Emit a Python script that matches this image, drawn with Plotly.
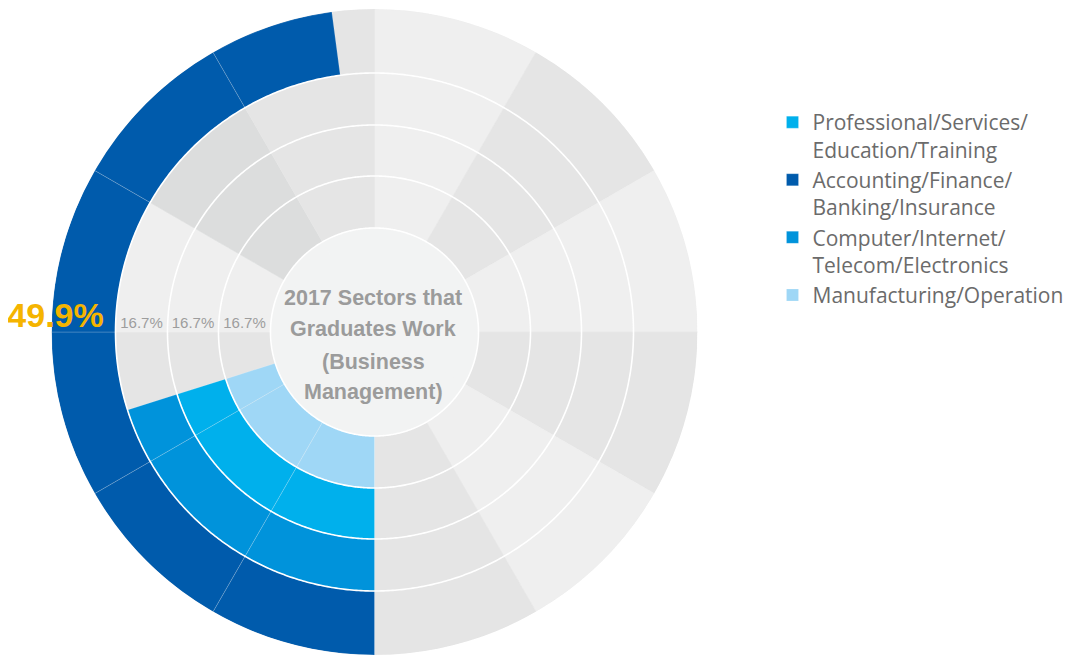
import numpy as np
import plotly.graph_objects as go

# ---------------- data (rings listed from inside to outside) ----------------
ring_names = ["Manufacturing/Operation",
              "Professional/Services/Education/Training",
              "Computer/Internet/Telecom/Electronics",
              "Accounting/Finance/Banking/Insurance"]
legend_labels = ["Manufacturing/Operation",
                 "Professional/Services/<br>Education/Training",
                 "Computer/Internet/<br>Telecom/Electronics",
                 "Accounting/Finance/<br>Banking/Insurance"]
share_pct = [16.7, 16.7, 16.7, 49.9]
share_labels = ["16.7%", "16.7%", "16.7%", "49.9%"]
arc_start_deg = 180.0
arc_end_deg = [252.5, 252.5, 252.5, 352.4]   # where each coloured arc ends
legend_order = [1, 3, 2, 0]                 # Professional, Accounting, Computer, Manufacturing
title_lines = ["2017 Sectors that", "Graduates Work", "(Business", "Management)"]

# ---------------- style ----------------
ring_colors = ["#9fd7f6", "#00b0ec", "#0093db", "#005bac"]
ring_edges = [104, 156, 207, 259, 323]
label_r = [130, 181.5, 233, 319]
label_theta = [270, 270, 270, 269.3]
sector_deg = 30
sector_shades = ["#efefef", "#e5e5e5", "#efefef", "#e5e5e5", "#efefef", "#e5e5e5",
                 "#efefef", "#e5e5e5", "#e5e5e5", "#efefef", "#dcdddd", "#e5e5e5"]
center_fill = "#f2f3f3"

W, H = 1075, 656
PAGE_OFF = 8          # default body margin of the html page
M_T, M_B = 1, 9
cx = 374.5 - PAGE_OFF
R = ring_edges[-1]


def py(screen_y):
    return 1 - (screen_y - PAGE_OFF - M_T) / (H - M_T - M_B)


def px(screen_x):
    return (screen_x - PAGE_OFF) / W


fig = go.Figure()
sector_centers = [sector_deg * k + sector_deg / 2 for k in range(12)]

# centre disk
fig.add_trace(go.Barpolar(
    theta=sector_centers, width=[sector_deg] * 12, base=[0] * 12, r=[ring_edges[0]] * 12,
    marker=dict(color=center_fill, line=dict(color=center_fill, width=1)),
    showlegend=False, hoverinfo="skip"))

# grey background sectors of each ring
for i in range(4):
    b, t = ring_edges[i], ring_edges[i + 1]
    fig.add_trace(go.Barpolar(
        theta=sector_centers, width=[sector_deg] * 12, base=[b] * 12, r=[t - b] * 12,
        marker=dict(color=sector_shades, line=dict(color=sector_shades, width=0.6)),
        showlegend=False, hoverinfo="skip"))

# coloured arcs (split on the 30 degree grid)
for i in legend_order:
    b, t = ring_edges[i], ring_edges[i + 1]
    starts = list(np.arange(arc_start_deg, arc_end_deg[i], sector_deg))
    ends = [min(s + sector_deg, arc_end_deg[i]) for s in starts]
    fig.add_trace(go.Barpolar(
        theta=[(s + e) / 2 for s, e in zip(starts, ends)],
        width=[e - s for s, e in zip(starts, ends)],
        base=[b] * len(starts), r=[t - b] * len(starts),
        name=legend_labels[i],
        marker=dict(color=ring_colors[i], line=dict(color="rgba(255,255,255,0.3)", width=0.6)),
        hovertemplate=ring_names[i] + ": " + share_labels[i] + "<extra></extra>"))

# white ring separators
circle_theta = np.linspace(0, 360, 721)
for e in ring_edges[:-1]:
    fig.add_trace(go.Scatterpolar(
        r=[e] * len(circle_theta), theta=circle_theta, mode="lines",
        line=dict(color="white", width=1.6), showlegend=False, hoverinfo="skip"))

# percentage labels
fig.add_trace(go.Scatterpolar(
    r=label_r[:3], theta=label_theta[:3], mode="text", text=share_labels[:3],
    textposition="top center",
    textfont=dict(family="Liberation Sans, Arial", size=15, color="#9d9d9d"),
    showlegend=False, hoverinfo="skip"))
fig.add_trace(go.Scatterpolar(
    r=[label_r[3]], theta=[label_theta[3]], mode="text", text=[share_labels[3]],
    textposition="top center",
    textfont=dict(family="Liberation Sans, Arial", size=34, color="#f5b400", weight="bold"),
    showlegend=False, hoverinfo="skip"))

# centre title
title_y = [298, 329, 362, 392]
for line, yy in zip(title_lines, title_y):
    fig.add_annotation(
        x=px(373), y=py(yy), xref="paper", yref="paper",
        text="<b>" + line + "</b>", showarrow=False, xanchor="center", yanchor="middle",
        font=dict(family="Liberation Sans, Arial", size=21.5, color="#9b9b9b"))

fig.update_layout(
    width=W, height=H,
    margin=dict(l=0, r=0, t=M_T, b=M_B),
    paper_bgcolor="white", plot_bgcolor="white",
    polar=dict(
        domain=dict(x=[(cx - R) / W, (cx + R) / W], y=[0, 1]),
        bgcolor="rgba(0,0,0,0)",
        bargap=0, barmode="overlay", hole=0,
        radialaxis=dict(visible=False, range=[0, R]),
        angularaxis=dict(visible=False, rotation=90, direction="clockwise"),
    ),
    legend=dict(
        x=px(772.5), y=py(102), xanchor="left", yanchor="top",
        valign="top", traceorder="normal",
        font=dict(family="Open Sans", size=21, color="#6b6b6b"),
        bgcolor="rgba(0,0,0,0)"),
    showlegend=True,
)

fig.write_html("out.html")
